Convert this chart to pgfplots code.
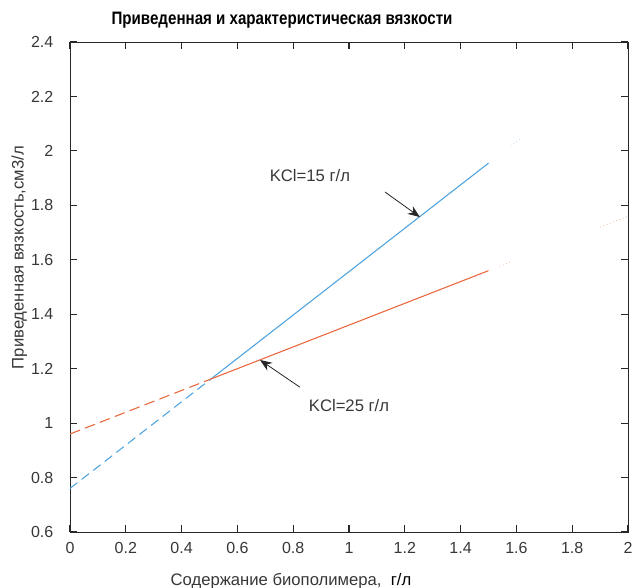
\documentclass[border=0pt]{standalone}
\usepackage{pgfplots}
\pgfplotsset{compat=1.18}
\usepackage{fontspec}
\setmainfont{Liberation Sans}
\usetikzlibrary{arrows.meta}
\definecolor{mblue}{RGB}{77,163,222}
\definecolor{morange}{RGB}{232,102,58}
\definecolor{axgray}{RGB}{40,40,40}
\definecolor{txtgray}{RGB}{55,55,55}

\begin{document}
\begin{tikzpicture}
% page frame: axis box is at (0,0)--(418.5pt,367.5pt)
\useasboundingbox (-52.5pt,-41.25pt) rectangle (423pt,399pt);
\begin{axis}[
  name=ax,
  at={(0,0)}, anchor=south west,
  scale only axis,
  width=418.5pt, height=367.5pt,
  xmin=0, xmax=2, ymin=0.6, ymax=2.4,
  xtick={0,0.2,0.4,0.6,0.8,1,1.2,1.4,1.6,1.8,2},
  ytick={0.6,0.8,1,1.2,1.4,1.6,1.8,2,2.2,2.4},
  tick align=inside,
  major tick length=5pt,
  axis line style={axgray, line width=0.7pt},
  tick style={axgray, line width=0.9pt},
  tick label style={font=\fontsize{12}{14}\selectfont, text=txtgray},
  xticklabel style={yshift=-4pt},
  yticklabel style={xshift=-9pt},
  /pgf/number format/assume math mode=true,
  title={\scalebox{0.84}[1]{\bfseries Приведенная и характеристическая вязкости}},
  title style={at={(axis description cs:0.38,1)}, anchor=base, yshift=7.5pt,
    font=\fontsize{13.5}{15}\selectfont},
  xlabel={Содержание биополимера,\ \ \textcolor{black}{г/л}},
  xlabel style={at={(axis description cs:0.396,0)}, anchor=base, yshift=-39.75pt,
    font=\fontsize{12.5}{14}\selectfont, text=txtgray},
  ylabel={Приведенная вязкость,см3/л},
  ylabel style={at={(axis description cs:0,0.56)}, anchor=center,
    yshift=38pt, font=\fontsize{12.5}{14}\selectfont, text=txtgray},
]
% KCl = 15 g/l: extrapolated and fitted parts
\addplot[mblue, line width=0.8pt, dash pattern=on 7pt off 4pt] coordinates {(0,0.76) (0.5,1.158)};
\addplot[mblue, line width=0.8pt] coordinates {(0.5,1.158) (1.5,1.955)};
\addplot[mblue!35, line width=0.6pt, dotted] coordinates {(1.58,2.018) (1.62,2.05)};
% KCl = 25 g/l
\addplot[morange, line width=0.8pt, dash pattern=on 8pt off 4pt] coordinates {(0,0.96) (0.5,1.16)};
\addplot[morange, line width=0.8pt] coordinates {(0.5,1.16) (1.5,1.56)};
\addplot[morange!40, line width=0.6pt, dotted] coordinates {(1.54,1.576) (1.58,1.592)};
\addplot[morange!50, line width=0.6pt, dotted] coordinates {(1.9,1.72) (1.995,1.758)};

\draw[-{Stealth[length=9pt,width=7pt]}, black!85, line width=0.6pt] (axis cs:1.129,1.849) -- (axis cs:1.254,1.757);
\draw[-{Stealth[length=9pt,width=7pt]}, black!85, line width=0.6pt] (axis cs:0.824,1.132) -- (axis cs:0.681,1.232);
\node[font=\fontsize{12.5}{14}\selectfont, text=txtgray] at (axis cs:0.86,1.91) {KCl=15 г/л};
\node[font=\fontsize{12.5}{14}\selectfont, text=txtgray] at (axis cs:1.0,1.065) {KCl=25 г/л};
\end{axis}
\end{tikzpicture}
\end{document}
